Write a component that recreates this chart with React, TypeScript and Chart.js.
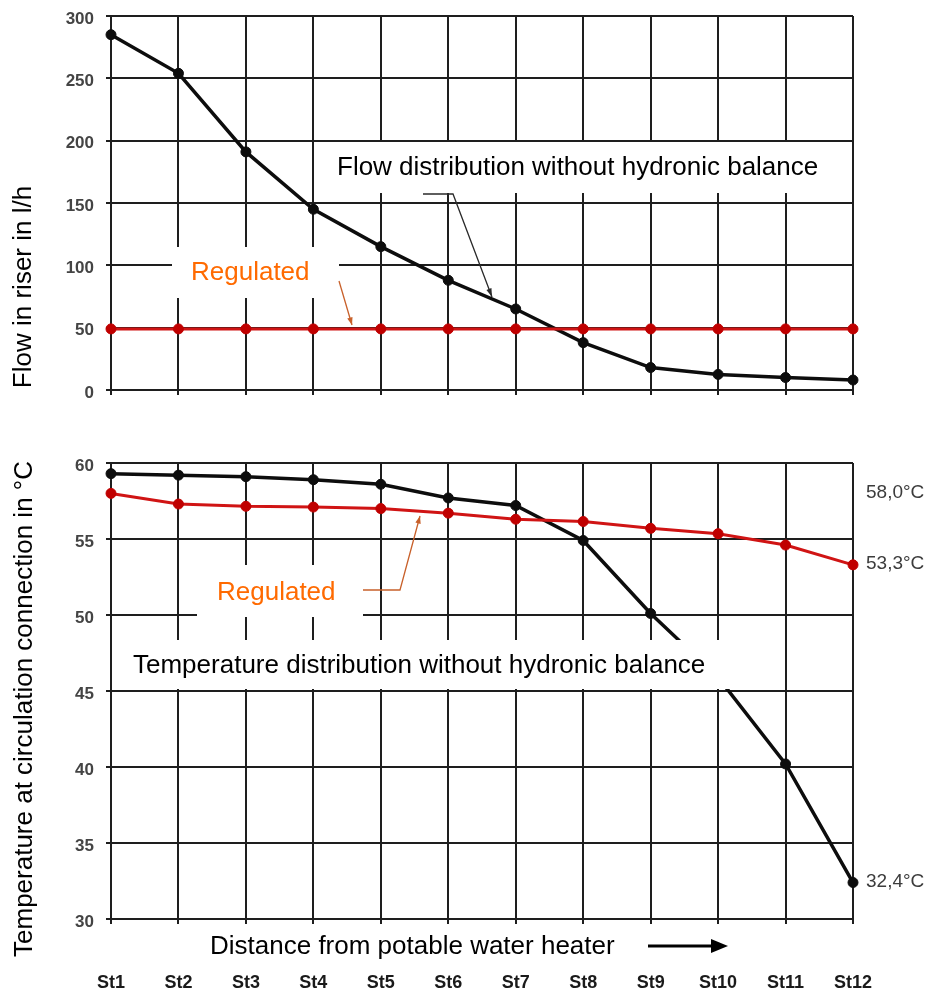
import React, { useEffect, useRef } from 'react';
import { Chart, registerables } from 'chart.js';

Chart.register(...registerables);

// ---------- data ----------
const stations = ['St1', 'St2', 'St3', 'St4', 'St5', 'St6', 'St7', 'St8', 'St9', 'St10', 'St11', 'St12'];
const flowUnbalanced = [285, 254, 191, 145, 115, 88, 65, 38, 18, 12.5, 10, 8];
const flowRegulated = [49, 49, 49, 49, 49, 49, 49, 49, 49, 49, 49, 49];
const tempUnbalanced = [59.3, 59.2, 59.1, 58.9, 58.6, 57.7, 57.2, 54.9, 50.1, 45.9, 40.2, 32.4];
const tempRegulated = [58.0, 57.3, 57.15, 57.1, 57.0, 56.7, 56.3, 56.15, 55.7, 55.35, 54.6, 53.3];
const endLabels = ['58,0°C', '53,3°C', '32,4°C'];

const flowTitle = 'Flow in riser in l/h';
const tempTitle = 'Temperature at circulation connection in °C';
const flowNote = 'Flow distribution without hydronic balance';
const tempNote = 'Temperature distribution without hydronic balance';
const regulatedNote = 'Regulated';
const xNote = 'Distance from potable water heater';

// ---------- styles ----------
const FONT = '"Liberation Sans", Arial, Helvetica, sans-serif';
const NARROW = '"Liberation Sans Narrow", "Arial Narrow", "Liberation Sans", Arial, sans-serif';
const GRID = '#1e1e1e';
const BLACK = '#0d0d0d';
const RED = '#d01414';
const RED_PT = '#c00000';
const ORANGE = '#ff6a00';
const ARROW_ORANGE = '#c8602a';

type Pt = [number, number];

function arrow(ctx: CanvasRenderingContext2D, pts: Pt[], color: string, width: number, head: number, spread = 0.38) {
  ctx.save();
  ctx.strokeStyle = color;
  ctx.fillStyle = color;
  ctx.lineWidth = width;
  ctx.beginPath();
  ctx.moveTo(pts[0][0], pts[0][1]);
  for (let i = 1; i < pts.length; i++) ctx.lineTo(pts[i][0], pts[i][1]);
  ctx.stroke();
  const [x1, y1] = pts[pts.length - 2];
  const [x2, y2] = pts[pts.length - 1];
  const a = Math.atan2(y2 - y1, x2 - x1);
  ctx.beginPath();
  ctx.moveTo(x2, y2);
  ctx.lineTo(x2 - head * Math.cos(a - spread), y2 - head * Math.sin(a - spread));
  ctx.lineTo(x2 - head * Math.cos(a + spread), y2 - head * Math.sin(a + spread));
  ctx.closePath();
  ctx.fill();
  ctx.restore();
}

function textBox(ctx: CanvasRenderingContext2D, box: [number, number, number, number], text: string, tx: number, ty: number, color: string) {
  ctx.save();
  ctx.fillStyle = '#ffffff';
  ctx.fillRect(box[0], box[1], box[2] - box[0], box[3] - box[1]);
  ctx.fillStyle = color;
  ctx.font = `26px ${FONT}`;
  ctx.textAlign = 'left';
  ctx.textBaseline = 'middle';
  ctx.fillText(text, tx, ty);
  ctx.restore();
}

function verticalTitle(ctx: CanvasRenderingContext2D, text: string, x: number, y: number) {
  ctx.save();
  ctx.translate(x, y);
  ctx.rotate(-Math.PI / 2);
  ctx.textAlign = 'center';
  ctx.textBaseline = 'middle';
  ctx.font = `26px ${FONT}`;
  ctx.fillStyle = '#000';
  ctx.fillText(text, 0, 0);
  ctx.restore();
}

const TOP_H = 420;
const BOT_TOP = 420;
const BOT_H = 1004 - 420;

const topAnnotations = {
  id: 'topAnnotations',
  afterDatasetsDraw(chart: any) {
    const ctx = chart.ctx as CanvasRenderingContext2D;
    arrow(ctx, [[423, 194], [453, 194], [492, 297]], '#2a2a2a', 1.3, 9, 0.3);
    textBox(ctx, [318, 142, 848, 193], flowNote, 337, 168, '#000');
    textBox(ctx, [172, 247, 339, 298], regulatedNote, 191, 273, ORANGE);
    arrow(ctx, [[339, 281], [352, 325]], ARROW_ORANGE, 1.3, 8, 0.35);
    verticalTitle(ctx, flowTitle, 24, 287);
  },
};

const bottomAnnotations = {
  id: 'bottomAnnotations',
  afterDatasetsDraw(chart: any) {
    const ctx = chart.ctx as CanvasRenderingContext2D;
    ctx.save();
    ctx.translate(0, -BOT_TOP);
    arrow(ctx, [[363, 590], [400, 590], [420, 516]], ARROW_ORANGE, 1.3, 8, 0.35);
    textBox(ctx, [197, 565, 363, 617], regulatedNote, 217, 593, ORANGE);
    textBox(ctx, [114, 640, 740, 689], tempNote, 133, 666, '#000');

    // x description + arrow
    ctx.fillStyle = '#000';
    ctx.font = `26px ${FONT}`;
    ctx.textAlign = 'left';
    ctx.textBaseline = 'middle';
    ctx.fillText(xNote, 210, 947);
    ctx.strokeStyle = '#000';
    ctx.lineWidth = 3;
    ctx.beginPath();
    ctx.moveTo(648, 946);
    ctx.lineTo(714, 946);
    ctx.stroke();
    ctx.beginPath();
    ctx.moveTo(728, 946);
    ctx.lineTo(711, 939);
    ctx.lineTo(711, 953);
    ctx.closePath();
    ctx.fill();

    verticalTitle(ctx, tempTitle, 25, 709);
    ctx.restore();

    // end labels
    const xs = chart.scales.x;
    const ys = chart.scales.y;
    const last = stations.length - 1;
    const lx = xs.getPixelForValue(last) + 13;
    const vals = [tempRegulated[0], tempRegulated[last], tempUnbalanced[last]];
    ctx.save();
    ctx.fillStyle = '#3c3c3c';
    ctx.font = `19px ${FONT}`;
    ctx.textAlign = 'left';
    ctx.textBaseline = 'middle';
    endLabels.forEach((t, i) => ctx.fillText(t, lx, ys.getPixelForValue(vals[i]) - 1));
    ctx.restore();
  },
};

const gridCommon = { color: GRID, lineWidth: 2, tickLength: 5 };
const borderCommon = { color: GRID, width: 2 };
const yTickFont = { family: FONT, size: 17, weight: 'bold' as const };

const fitY = (s: any) => {
  s.width = 111;
  s.paddingTop = 0;
  s.paddingBottom = 0;
};

function lineDs(label: string, data: number[], color: string, ptColor: string, width: number) {
  return {
    label,
    data,
    borderColor: color,
    backgroundColor: ptColor,
    pointBackgroundColor: ptColor,
    pointBorderColor: ptColor,
    pointRadius: 5,
    pointBorderWidth: 1,
    borderWidth: width,
    tension: 0,
    clip: false as const,
  };
}

export default function App() {
  const topRef = useRef<HTMLCanvasElement>(null);
  const botRef = useRef<HTMLCanvasElement>(null);

  useEffect(() => {
    const c1 = new Chart(topRef.current!, {
      type: 'line',
      data: {
        labels: stations,
        datasets: [
          lineDs('Regulated', flowRegulated, RED, RED_PT, 3),
          lineDs('Without hydronic balance', flowUnbalanced, BLACK, BLACK, 3.5),
        ],
      },
      options: {
        responsive: false,
        animation: false,
        devicePixelRatio: 1,
        layout: { padding: { left: 0, right: 78, top: 16, bottom: 0 } },
        plugins: { legend: { display: false }, tooltip: { enabled: false } },
        scales: {
          x: {
            type: 'category',
            offset: false,
            grid: gridCommon,
            border: borderCommon,
            ticks: { display: false },
            afterFit: (s: any) => { s.height = 30; },
          },
          y: {
            min: 0,
            max: 300,
            grid: gridCommon,
            border: borderCommon,
            ticks: { stepSize: 50, font: yTickFont, color: '#444', padding: 12, labelOffset: 3 },
            afterFit: fitY,
          },
        },
      },
      plugins: [topAnnotations],
    } as any);

    const c2 = new Chart(botRef.current!, {
      type: 'line',
      data: {
        labels: stations,
        datasets: [
          lineDs('Regulated', tempRegulated, RED, RED_PT, 3),
          lineDs('Without hydronic balance', tempUnbalanced, BLACK, BLACK, 3.5),
        ],
      },
      options: {
        responsive: false,
        animation: false,
        devicePixelRatio: 1,
        layout: { padding: { left: 0, right: 78, top: 43, bottom: 0 } },
        plugins: { legend: { display: false }, tooltip: { enabled: false } },
        scales: {
          x: {
            type: 'category',
            offset: false,
            grid: gridCommon,
            border: borderCommon,
            ticks: {
              display: true,
              color: '#1a1a1a',
              font: { family: NARROW, size: 18, weight: 'bold' },
              padding: 48,
              maxRotation: 0,
              autoSkip: false,
            },
            afterFit: (s: any) => { s.height = 85; },
          },
          y: {
            min: 30,
            max: 60,
            grid: gridCommon,
            border: borderCommon,
            ticks: { stepSize: 5, font: yTickFont, color: '#444', padding: 12, labelOffset: 3 },
            afterFit: fitY,
          },
        },
      },
      plugins: [bottomAnnotations],
    } as any);

    return () => {
      c1.destroy();
      c2.destroy();
    };
  }, []);

  return (
    <div style={{ position: 'absolute', left: 0, top: 0, width: 931, height: 1004, background: '#fff' }}>
      <canvas
        ref={topRef}
        width={931}
        height={TOP_H}
        style={{ position: 'absolute', left: 0, top: 0, width: 931, height: TOP_H }}
      />
      <canvas
        ref={botRef}
        width={931}
        height={BOT_H}
        style={{ position: 'absolute', left: 0, top: BOT_TOP, width: 931, height: BOT_H }}
      />
    </div>
  );
}
